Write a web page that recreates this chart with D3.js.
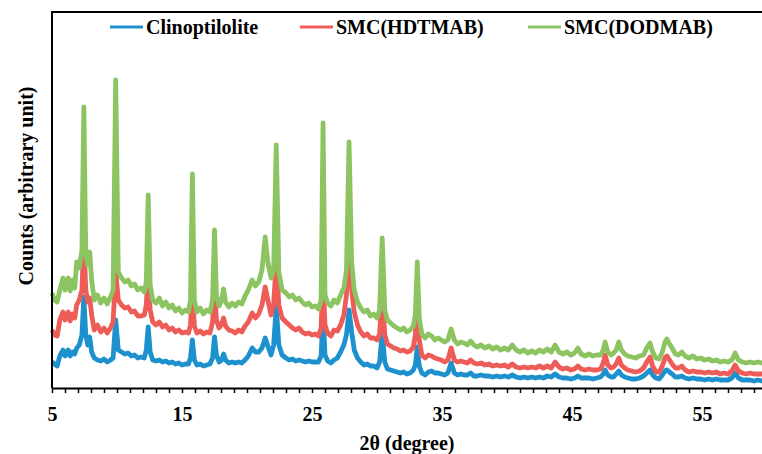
<!DOCTYPE html>
<html>
<head>
<meta charset="utf-8">
<script src="https://d3js.org/d3.v7.min.js"></script>
<style>
  body { margin: 0; background: #fff; }
  svg { display: block; }
  text { font-family: "Liberation Serif", "Times New Roman", serif; font-weight: bold; fill: #000; }
</style>
</head>
<body>
<svg width="762" height="454"></svg>
<script>
// 2-theta positions (degree), shared by the three scans
var twoTheta = [
  5.0, 5.2, 5.4, 5.6, 5.85, 6.0, 6.25, 6.4, 6.6, 6.75, 6.9, 7.1, 7.3, 7.45, 7.6, 7.75, 7.9, 8.05, 8.25, 8.5,
  8.75, 9.0, 9.25, 9.5, 9.7, 9.9, 10.1, 10.35, 10.6, 10.85, 11.1, 11.35, 11.6, 11.85, 12.1, 12.25, 12.4, 12.55, 12.75, 13.0,
  13.25, 13.5, 13.75, 14.0, 14.25, 14.5, 14.75, 15.0, 15.25, 15.5, 15.65, 15.8, 15.95, 16.15, 16.4, 16.65, 16.9, 17.15, 17.35, 17.5,
  17.65, 17.85, 18.05, 18.2, 18.35, 18.6, 18.85, 19.1, 19.35, 19.6, 19.85, 20.1, 20.4, 20.65, 20.9, 21.15, 21.4, 21.6, 21.85, 22.05,
  22.25, 22.45, 22.7, 23.0, 23.25, 23.5, 23.75, 24.0, 24.25, 24.5, 24.75, 25.0, 25.25, 25.5, 25.7, 25.85, 26.0, 26.2, 26.45, 26.7,
  26.95, 27.2, 27.45, 27.65, 27.85, 28.05, 28.25, 28.5, 28.75, 29.0, 29.25, 29.5, 29.75, 30.0, 30.2, 30.4, 30.6, 30.8, 31.05, 31.3,
  31.55, 31.8, 32.05, 32.3, 32.55, 32.8, 32.95, 33.1, 33.25, 33.45, 33.7, 33.95, 34.2, 34.45, 34.7, 34.95, 35.2, 35.45, 35.7, 35.95,
  36.2, 36.45, 36.7, 36.95, 37.2, 37.45, 37.7, 38.0, 38.3, 38.6, 38.9, 39.2, 39.5, 39.8, 40.1, 40.4, 40.7, 41.0, 41.3, 41.6,
  41.9, 42.2, 42.5, 42.8, 43.1, 43.4, 43.7, 44.0, 44.3, 44.6, 44.9, 45.2, 45.45, 45.7, 46.0, 46.3, 46.6, 46.9, 47.2, 47.4,
  47.55, 47.75, 48.0, 48.2, 48.4, 48.6, 48.8, 49.05, 49.3, 49.6, 49.9, 50.2, 50.5, 50.75, 51.0, 51.2, 51.45, 51.7, 51.95, 52.15,
  52.3, 52.5, 52.7, 52.95, 53.2, 53.45, 53.7, 54.0, 54.3, 54.6, 54.9, 55.2, 55.5, 55.8, 56.1, 56.4, 56.7, 57.0, 57.3, 57.55,
  57.8, 58.1, 58.4, 58.7, 59.0, 59.3, 59.6, 59.8
];

var clinoptilolite = [
  26, 24, 22, 32, 38, 32, 38, 32, 36, 34, 40, 43, 53, 91, 53, 43, 51, 36, 30, 28,
  27, 29, 26, 28, 30, 68, 38, 36, 34, 35, 32, 33, 30, 31, 30, 38, 61, 36, 28, 27,
  28, 26, 27, 25, 26, 24, 25, 23, 24, 24, 30, 48, 28, 23, 24, 22, 23, 24, 30, 51,
  33, 26, 28, 34, 28, 25, 26, 25, 26, 25, 28, 32, 40, 36, 36, 40, 50, 42, 33, 43,
  81, 43, 33, 30, 28, 29, 27, 28, 27, 26, 27, 26, 26, 26, 32, 76, 33, 27, 25, 28,
  30, 36, 43, 53, 78, 56, 38, 30, 26, 23, 24, 22, 22, 20, 26, 55, 26, 19, 18, 17,
  16, 15, 16, 14, 15, 18, 23, 41, 22, 15, 13, 16, 17, 15, 15, 14, 13, 15, 25, 15,
  13, 14, 13, 13, 15, 12, 12, 13, 12, 12, 11, 12, 11, 12, 11, 13, 11, 10, 11, 10,
  11, 10, 11, 10, 12, 11, 14, 11, 10, 10, 9, 10, 12, 10, 10, 10, 9, 10, 11, 14,
  18, 13, 11, 11, 14, 17, 13, 11, 10, 9, 9, 10, 12, 15, 18, 13, 10, 9, 13, 17,
  18, 16, 14, 11, 11, 12, 10, 9, 10, 9, 9, 8, 9, 8, 9, 8, 8, 8, 10, 15,
  10, 8, 8, 8, 7, 8, 7, 7
];

var smcHDTMAB = [
  58, 53, 52, 68, 76, 68, 76, 67, 74, 70, 83, 88, 98, 148, 98, 86, 90, 73, 58, 63,
  56, 60, 55, 60, 66, 116, 88, 83, 80, 81, 76, 77, 72, 72, 73, 83, 116, 78, 66, 63,
  66, 61, 63, 58, 60, 56, 58, 55, 56, 55, 63, 98, 62, 55, 57, 54, 56, 55, 66, 100,
  68, 60, 64, 70, 62, 58, 57, 55, 58, 56, 62, 66, 75, 70, 74, 83, 101, 88, 73, 83,
  128, 83, 70, 66, 63, 60, 58, 60, 56, 54, 55, 53, 54, 52, 60, 111, 63, 55, 52, 58,
  57, 63, 73, 93, 156, 98, 76, 63, 56, 52, 54, 50, 50, 48, 54, 96, 53, 44, 42, 40,
  39, 37, 38, 36, 37, 41, 53, 83, 48, 33, 30, 33, 32, 30, 29, 28, 26, 28, 40, 28,
  26, 27, 26, 25, 28, 25, 24, 25, 23, 24, 22, 23, 22, 23, 21, 24, 21, 20, 21, 20,
  21, 20, 22, 20, 22, 20, 26, 21, 19, 20, 18, 19, 22, 19, 18, 19, 18, 18, 19, 25,
  33, 23, 20, 21, 24, 30, 23, 20, 18, 17, 16, 17, 20, 26, 31, 22, 16, 16, 22, 30,
  32, 28, 24, 20, 20, 22, 18, 16, 17, 16, 16, 15, 16, 15, 16, 14, 15, 14, 17, 23,
  17, 15, 14, 15, 14, 14, 14, 14
];

var smcDODMAB = [
  95, 88, 86, 98, 110, 98, 110, 97, 108, 100, 126, 120, 138, 281, 133, 123, 136, 108, 88, 93,
  85, 90, 84, 91, 98, 308, 116, 110, 106, 108, 102, 104, 98, 100, 96, 106, 193, 103, 88, 85,
  90, 82, 86, 80, 83, 77, 80, 75, 78, 76, 88, 214, 88, 76, 80, 74, 78, 76, 88, 158,
  93, 82, 88, 99, 86, 81, 85, 82, 86, 84, 92, 98, 108, 102, 106, 118, 151, 126, 110, 118,
  243, 116, 98, 95, 91, 93, 88, 90, 86, 83, 85, 81, 82, 79, 88, 265, 93, 85, 82, 88,
  85, 93, 100, 118, 246, 126, 98, 86, 80, 76, 78, 72, 74, 70, 78, 150, 78, 68, 65, 62,
  60, 58, 60, 56, 58, 62, 73, 126, 70, 54, 50, 54, 52, 48, 50, 48, 46, 48, 59, 48,
  44, 46, 45, 43, 47, 43, 41, 43, 40, 42, 39, 41, 38, 40, 38, 43, 38, 36, 38, 35,
  37, 35, 38, 36, 39, 36, 43, 36, 34, 36, 33, 35, 40, 34, 32, 34, 32, 33, 33, 38,
  46, 36, 33, 35, 38, 46, 38, 34, 32, 31, 30, 32, 33, 40, 45, 36, 30, 29, 36, 46,
  49, 44, 40, 34, 33, 36, 32, 30, 32, 29, 30, 28, 29, 27, 28, 26, 27, 26, 28, 35,
  28, 26, 25, 26, 25, 26, 25, 25
];

var seriesNames = ["Clinoptilolite", "SMC(HDTMAB)", "SMC(DODMAB)"];
var seriesColors = ["#1c91cd", "#ee5c58", "#8cc462"];
var xTickLabels = [5, 15, 25, 35, 45, 55];

var loadChart = function() {

    var svg = d3.select("svg");

    var left = 52, top = 12, bottom = 388, right = 767;

    var x = d3.scaleLinear().domain([5, 60]).range([left, right]);
    var y = d3.scaleLinear().domain([0, 376]).range([bottom, top]);

    var series = [clinoptilolite, smcHDTMAB, smcDODMAB].map(function(vals, i) {
        return {
            name: seriesNames[i],
            color: seriesColors[i],
            points: vals.map(function(v, j) { return [twoTheta[j], v]; })
        };
    });

    var line = d3.line()
        .x(function(d) { return x(d[0]); })
        .y(function(d) { return y(d[1]); });

    svg.append("g")
        .attr("class", "lines")
        .selectAll("path")
        .data(series)
        .enter().append("path")
            .attr("d", function(d) { return line(d.points); })
            .attr("fill", "none")
            .attr("stroke", function(d) { return d.color; })
            .attr("stroke-width", 4.8)
            .attr("stroke-linejoin", "round");

    // plot area frame (top + left), the right side runs off the picture
    svg.append("path")
        .attr("d", "M" + left + "," + bottom + "V" + top + "H" + 762)
        .attr("fill", "none")
        .attr("stroke", "#000")
        .attr("stroke-width", 2);

    var xAxis = d3.axisBottom(x)
        .tickValues(d3.range(5, 61, 1))
        .tickSize(5)
        .tickSizeOuter(0)
        .tickFormat(function(d) { return xTickLabels.indexOf(d) >= 0 ? d : ""; });

    var gx = svg.append("g")
        .attr("transform", "translate(0," + bottom + ")")
        .call(xAxis);

    gx.select(".domain").attr("stroke-width", 2).attr("stroke", "#000");
    gx.selectAll(".tick line").attr("stroke", "#000").attr("stroke-width", 1.5);
    gx.selectAll(".tick text")
        .attr("y", 33)
        .attr("dy", 0)
        .style("font-family", "'Liberation Serif', serif")
        .style("font-weight", "bold")
        .style("font-size", "20px");

    svg.append("text")
        .attr("x", 407)
        .attr("y", 450)
        .attr("text-anchor", "middle")
        .style("font-size", "20px")
        .text("2θ (degree)");

    svg.append("text")
        .attr("transform", "translate(33,186) rotate(-90)")
        .attr("text-anchor", "middle")
        .style("font-size", "20px")
        .text("Counts (arbitrary unit)");

    // legend
    var legendX = [110, 300, 528];
    var legend = svg.append("g")
        .selectAll("g")
        .data(series)
        .enter().append("g")
            .attr("transform", function(d, i) { return "translate(" + legendX[i] + ",27)"; });

    legend.append("line")
        .attr("x1", 0).attr("x2", 33)
        .attr("stroke", function(d) { return d.color; })
        .attr("stroke-width", 3);

    legend.append("text")
        .attr("x", 36)
        .attr("y", 7)
        .style("font-size", "20px")
        .text(function(d) { return d.name; });
}

document.addEventListener('DOMContentLoaded', loadChart, false);
</script>
</body>
</html>
